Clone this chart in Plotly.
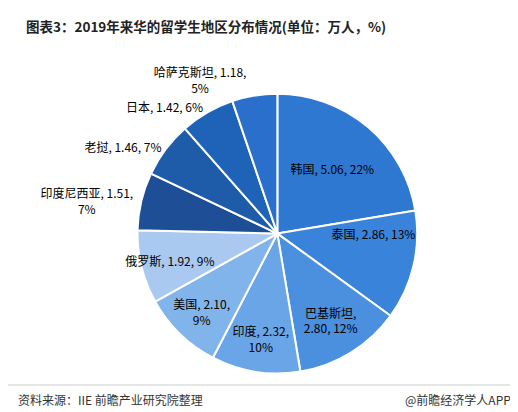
import plotly.graph_objects as go

countries = ["韩国", "泰国", "巴基斯坦", "印度", "美国", "俄罗斯", "印度尼西亚", "老挝", "日本", "哈萨克斯坦"]
values = [5.06, 2.86, 2.80, 2.32, 2.10, 1.92, 1.51, 1.46, 1.42, 1.18]
label_text = ["韩国, 5.06, 22%", "泰国, 2.86, 13%", "巴基斯坦,<br>2.80, 12%", "印度, 2.32,<br>10%",
              "美国, 2.10,<br>9%", "俄罗斯, 1.92, 9%", "印度尼西亚, 1.51,<br>7%", "老挝, 1.46, 7%",
              "日本, 1.42, 6%", "哈萨克斯坦, 1.18,<br>5%"]
positions = ["inside"] * 6 + ["outside"] * 4
colors = ["#2f78d2", "#3a83da", "#4b8fdf", "#6aa5e8", "#82b4ec", "#a9c9f0",
          "#1d4e96", "#1e5ba9", "#1f63b8", "#2a6fcc"]

fig = go.Figure(go.Pie(
    values=values, labels=countries, text=label_text, textinfo="text",
    textposition=positions, sort=False, direction="clockwise", rotation=0,
    marker=dict(colors=colors, line=dict(color="white", width=2)),
    textfont=dict(size=12, color="#000000", family="Noto Sans CJK SC"),
    insidetextorientation="horizontal", showlegend=False,
    domain=dict(x=[0.25, 0.79], y=[0.11, 0.795]),
))
fig.update_layout(
    width=518, height=412, margin=dict(l=0, r=0, t=0, b=0),
    uniformtext=dict(minsize=12, mode="show"),
    paper_bgcolor="white", font=dict(family="Noto Sans CJK SC"),
    annotations=[
        dict(text="<b>图表3：2019年来华的留学生地区分布情况(单位：万人，%)</b>", x=0.03, y=0.985,
             xref="paper", yref="paper", xanchor="left", yanchor="top", showarrow=False,
             font=dict(size=13.5, color="#222")),
        dict(text="资料来源：IIE 前瞻产业研究院整理", x=0.015, y=0.025, xref="paper", yref="paper",
             xanchor="left", yanchor="bottom", showarrow=False, font=dict(size=12, color="#333")),
        dict(text="@前瞻经济学人APP", x=0.975, y=0.025, xref="paper", yref="paper",
             xanchor="right", yanchor="bottom", showarrow=False, font=dict(size=12, color="#333")),
    ],
    shapes=[dict(type="line", xref="paper", yref="paper", x0=0, x1=1, y0=0.085, y1=0.085,
                 line=dict(color="#cccccc", width=1))],
)
fig.write_html("out.html")
